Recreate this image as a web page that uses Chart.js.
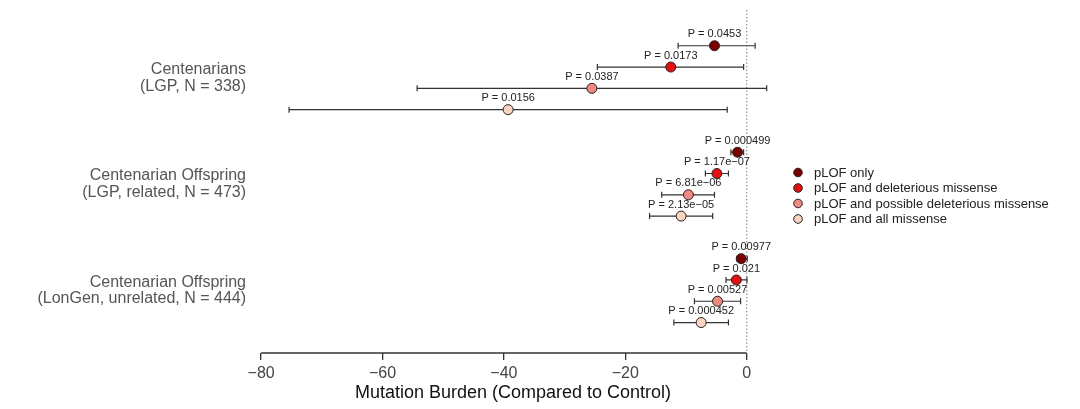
<!DOCTYPE html>
<html><head><meta charset="utf-8">
<script src="https://cdn.jsdelivr.net/npm/chart.js@4.4.0/dist/chart.umd.min.js"></script>
<style>html,body{margin:0;padding:0;background:#fff;}#c{display:block;}</style>
</head><body>
<canvas id="c" width="1080" height="409"></canvas>
<script>
// ---- data ----
const cohortLabels = [
  ["Centenarians", "(LGP, N = 338)"],
  ["Centenarian Offspring", "(LGP, related, N = 473)"],
  ["Centenarian Offspring", "(LonGen, unrelated, N = 444)"]
];
const seriesNames = ["pLOF only", "pLOF and deleterious missense", "pLOF and possible deleterious missense", "pLOF and all missense"];
const seriesColors = ["#7a0000", "#e60f0f", "#f08a80", "#fcd3c2"];

const estOnly = [-5.3, -1.5, -0.9];
const loOnly  = [-11.3, -2.6, -1.6];
const hiOnly  = [1.4, -0.5, 0.1];
const pOnly   = ["P = 0.0453", "P = 0.000499", "P = 0.00977"];

const estDel = [-12.5, -4.9, -1.7];
const loDel  = [-24.6, -6.8, -3.4];
const hiDel  = [-0.5, -3.0, 0.05];
const pDel   = ["P = 0.0173", "P = 1.17e\u221207", "P = 0.021"];

const estPos = [-25.5, -9.6, -4.8];
const loPos  = [-54.3, -14.0, -8.6];
const hiPos  = [3.3, -5.3, -1.0];
const pPos   = ["P = 0.0387", "P = 6.81e\u221206", "P = 0.00527"];

const estAll = [-39.3, -10.8, -7.5];
const loAll  = [-75.4, -16.0, -12.0];
const hiAll  = [-3.2, -5.6, -3.0];
const pAll   = ["P = 0.0156", "P = 2.13e\u221205", "P = 0.000452"];

const xTicks = [-80, -60, -40, -20, 0];
const xTitle = "Mutation Burden (Compared to Control)";

// ---- build ----
const est = [estOnly, estDel, estPos, estAll];
const lo = [loOnly, loDel, loPos, loAll];
const hi = [hiOnly, hiDel, hiPos, hiAll];
const pl = [pOnly, pDel, pPos, pAll];
const slotOf = (g, k) => g * 5 + k;
const groupCenters = cohortLabels.map((_, g) => g * 5 + 1.5);

const FONT = "'Liberation Sans', Arial, Helvetica, sans-serif";

const datasets = seriesNames.map((name, k) => ({
  label: name,
  data: est[k].map((v, g) => ({x: v, y: slotOf(g, k)})),
  backgroundColor: seriesColors[k],
  borderColor: "#222",
  borderWidth: 1,
  pointRadius: 5,
  pointHoverRadius: 5,
  showLine: false,
  lo: lo[k], hi: hi[k], pl: pl[k]
}));

const forestPlugin = {
  id: "forest",
  beforeDatasetsDraw(chart) {
    const {ctx, chartArea, scales: {x, y}} = chart;
    ctx.save();
    const x0 = x.getPixelForValue(0);
    ctx.strokeStyle = "#888";
    ctx.lineWidth = 1.3;
    ctx.setLineDash([1.3, 2.2]);
    ctx.beginPath();
    ctx.moveTo(x0, chartArea.top);
    ctx.lineTo(x0, chartArea.bottom);
    ctx.stroke();
    ctx.setLineDash([]);
    ctx.strokeStyle = "#333";
    ctx.lineWidth = 1.3;
    ctx.beginPath();
    ctx.moveTo(x.getPixelForValue(xTicks[0]), chartArea.bottom);
    ctx.lineTo(x.getPixelForValue(xTicks[xTicks.length - 1]), chartArea.bottom);
    ctx.stroke();
    ctx.strokeStyle = "#333";
    ctx.lineWidth = 1.2;
    chart.data.datasets.forEach(ds => {
      ds.data.forEach((pt, g) => {
        const yp = y.getPixelForValue(pt.y);
        const xl = x.getPixelForValue(ds.lo[g]);
        const xh = x.getPixelForValue(ds.hi[g]);
        ctx.beginPath();
        ctx.moveTo(xl, yp); ctx.lineTo(xh, yp);
        ctx.moveTo(xl, yp - 3); ctx.lineTo(xl, yp + 3);
        ctx.moveTo(xh, yp - 3); ctx.lineTo(xh, yp + 3);
        ctx.stroke();
      });
    });
    ctx.restore();
  },
  afterDatasetsDraw(chart) {
    const {ctx, scales: {x, y}} = chart;
    ctx.save();
    ctx.font = "11px " + FONT;
    ctx.fillStyle = "#222";
    ctx.textAlign = "center";
    ctx.textBaseline = "middle";
    chart.data.datasets.forEach(ds => {
      ds.data.forEach((pt, g) => {
        ctx.fillText(ds.pl[g], x.getPixelForValue(pt.x), y.getPixelForValue(pt.y) - 11.5);
      });
    });
    const lx = 798, ly0 = 172.5, dy = 15.5;
    ctx.font = "13px " + FONT;
    ctx.textAlign = "left";
    chart.data.datasets.forEach((ds, k) => {
      const yy = ly0 + k * dy;
      ctx.beginPath();
      ctx.arc(lx, yy, 4.3, 0, Math.PI * 2);
      ctx.fillStyle = ds.backgroundColor;
      ctx.fill();
      ctx.strokeStyle = "#222";
      ctx.lineWidth = 1;
      ctx.stroke();
      ctx.fillStyle = "#222";
      ctx.fillText(ds.label, lx + 16, yy + 0.5);
    });
    ctx.restore();
  }
};

new Chart(document.getElementById("c"), {
  type: "scatter",
  data: {datasets},
  options: {
    responsive: false,
    animation: false,
    events: [],
    layout: {padding: {left: 0, right: 303, top: 10, bottom: 0}},
    plugins: {legend: {display: false}, tooltip: {enabled: false}},
    scales: {
      x: {
        type: "linear",
        min: -82, max: 5,
        afterBuildTicks(s) { s.ticks = xTicks.map(v => ({value: v})); },
        afterFit(s) { s.height = 56; s.paddingLeft = 0; s.paddingRight = 0; },
        border: {display: false},
        grid: {display: true, drawOnChartArea: false, drawTicks: true, tickLength: 7, color: "#333", lineWidth: 1.3},
        ticks: {
          color: "#444", padding: 4,
          font: {family: FONT, size: 16},
          callback: v => String(v).replace("-", "\u2212")
        },
        title: {display: true, text: xTitle, color: "#111", font: {family: FONT, size: 18}, padding: {top: 0, bottom: 5}}
      },
      y: {
        type: "linear",
        reverse: true,
        min: -1.68, max: 14.43,
        afterBuildTicks(s) { s.ticks = groupCenters.map(v => ({value: v})); },
        afterFit(s) { s.width = 249; s.paddingTop = 0; s.paddingBottom = 0; },
        border: {display: false},
        grid: {display: false, drawTicks: false},
        ticks: {
          color: "#555", padding: 3,
          font: {family: FONT, size: 16, lineHeight: 1.05},
          callback: (v, i) => cohortLabels[i]
        }
      }
    }
  },
  plugins: [forestPlugin]
});
</script>
</body></html>
